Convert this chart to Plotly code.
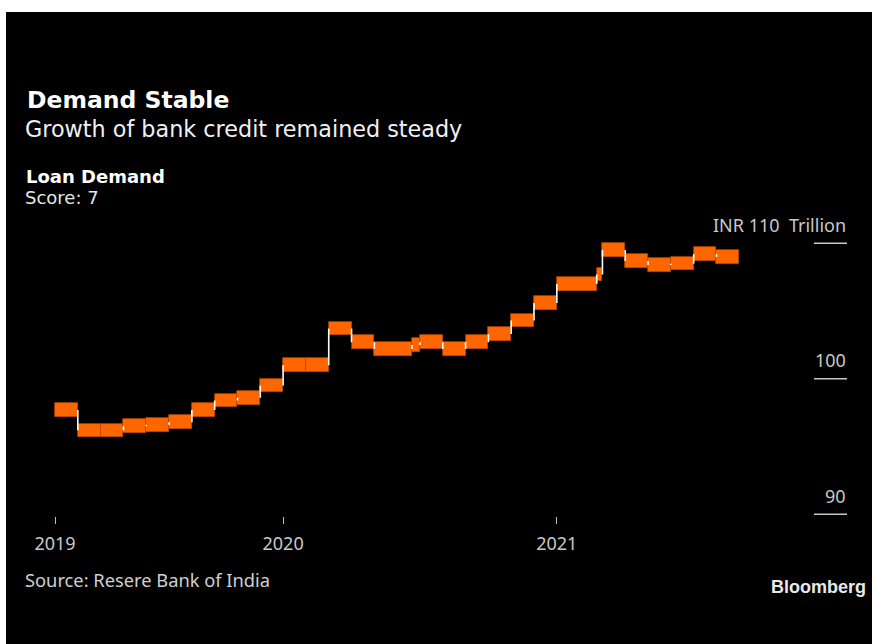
import plotly.graph_objects as go

# ---- data ----
# start of each reporting period on the chart's period axis (2019 = 0)
period_start = [0, 1, 2, 3, 4, 5, 6, 7, 8, 9, 10, 11, 12, 13, 14, 15.65,
                16, 17, 18, 19, 20, 21, 22, 23.75, 24, 25, 26, 27, 28, 29]
period_end_last = 30
# bank credit, INR trillion
credit = [97.7, 96.2, 96.2, 96.5, 96.6, 96.8, 97.7, 98.4, 98.6, 99.5,
          101.0, 101.0, 103.7, 102.7, 102.2, 102.5, 102.7, 102.2, 102.7, 103.3,
          104.3, 105.6, 107.0, 107.7, 109.5, 108.7, 108.4, 108.5, 109.2, 109.0]
year_ticks = [0, 10, 22]
year_labels = ["2019", "2020", "2021"]
y_ticks = [90, 100, 110]
y_labels = ["90", "100", "INR 110\u00a0 Trillion"]

# ---- layout geometry (window pixels; page margin removed below) ----
W, H = 872, 644
PX0, PX1, PY0, PY1 = 30, 848, 230, 516
L, R, T, B = PX0, W - PX1, PY0, H - PY1
PW, PH = PX1 - PX0, PY1 - PY0


def px_x(px):
    return (px - PX0) / PW


def px_y(py):
    return (PY1 - py) / PH


ORANGE = "#ff6600"
period_end = period_start[1:] + [period_end_last]
centers = [(a + b) / 2 for a, b in zip(period_start, period_end)]
widths = [b - a for a, b in zip(period_start, period_end)]
thick = 1.0
bases = [v - thick / 2 for v in credit]

fig = go.Figure()

fig.add_trace(go.Bar(
    x=centers, y=[thick] * len(credit), base=bases, width=widths,
    marker=dict(color=ORANGE, line=dict(color="#b84a00", width=0.7)),
    hoverinfo="skip", showlegend=False,
))

# white step connectors
cx, cy = [], []
for i in range(1, len(credit)):
    cx += [period_start[i], period_start[i], None]
    cy += [credit[i - 1], credit[i], None]
fig.add_trace(go.Scatter(
    x=cx, y=cy, mode="lines", line=dict(color="white", width=1.6),
    hoverinfo="skip", showlegend=False,
))

unit = 22.81
x0_px = 55
fig.update_xaxes(
    range=[(PX0 - x0_px) / unit, (PX1 - x0_px) / unit],
    showgrid=False, zeroline=False, showline=False,
    tickvals=year_ticks, ticktext=year_labels,
    ticks="outside", ticklen=7, tickwidth=1, tickcolor="#bdbdbd",
    tickfont=dict(family="Noto Sans", size=18, color="#c8c8c8"),
    ticklabelstandoff=4,
)
ypx = 13.55
fig.update_yaxes(
    range=[90 - (PY1 - 514.3) / ypx, 110 + (243.3 - PY0) / ypx],
    visible=False, showgrid=False, zeroline=False,
)

shapes = [
    # white strips along the top and left of the screenshot
    dict(type="rect", xref="paper", yref="paper", x0=px_x(0), x1=px_x(W),
         y0=px_y(0), y1=px_y(12), fillcolor="white", line=dict(width=0),
         layer="above"),
    dict(type="rect", xref="paper", yref="paper", x0=px_x(0), x1=px_x(6),
         y0=px_y(0), y1=px_y(H), fillcolor="white", line=dict(width=0),
         layer="above"),
]
for v in y_ticks:
    shapes.append(dict(type="line", xref="paper", yref="y",
                       x0=px_x(814), x1=px_x(847), y0=v, y1=v,
                       line=dict(color="#c8c8c8", width=1.5)))

annotations = []
for v, t in zip(y_ticks, y_labels):
    annotations.append(dict(
        text=t, xref="paper", yref="y", x=px_x(848), y=v,
        xanchor="right", yanchor="middle", yshift=11.5 + 0.388 * 18,
        showarrow=False,
        font=dict(family="Noto Sans", size=18, color="#c8c8c8")))


def txt(text, x, yc, family, size, color, anchor="left"):
    annotations.append(dict(
        text=text, xref="paper", yref="paper", x=px_x(x), y=px_y(yc),
        xanchor=anchor, yanchor="middle", showarrow=False,
        font=dict(family=family, size=size, color=color)))


txt("<b>Demand Stable</b>", 25, 100.2, "DejaVu Sans", 23.5, "#ffffff")
txt("Growth of bank credit remained steady", 23, 129, "DejaVu Sans", 22.3, "#f0f0f0")
txt("<b>Loan Demand</b>", 24, 176.5, "DejaVu Sans", 18, "#ffffff")
txt("Score: 7", 23, 197.8, "DejaVu Sans", 18, "#e6e6e6")
txt("Source: Resere Bank of India", 23, 579.5, "Noto Sans", 18.3, "#cfcfcf")
txt("<b>Bloomberg</b>", 868, 587, "Liberation Sans", 18, "#e8e8e8", anchor="right")

fig.update_layout(
    width=W, height=H,
    margin=dict(l=L, r=R, t=T, b=B, pad=0),
    paper_bgcolor="black", plot_bgcolor="black",
    barmode="overlay", bargap=0,
    shapes=shapes, annotations=annotations,
    showlegend=False, hovermode=False,
)

fig.write_html(
    "out.html",
    config={"displayModeBar": False},
    post_script="document.body.style.margin='0';"
                "document.body.style.overflow='hidden';",
)
